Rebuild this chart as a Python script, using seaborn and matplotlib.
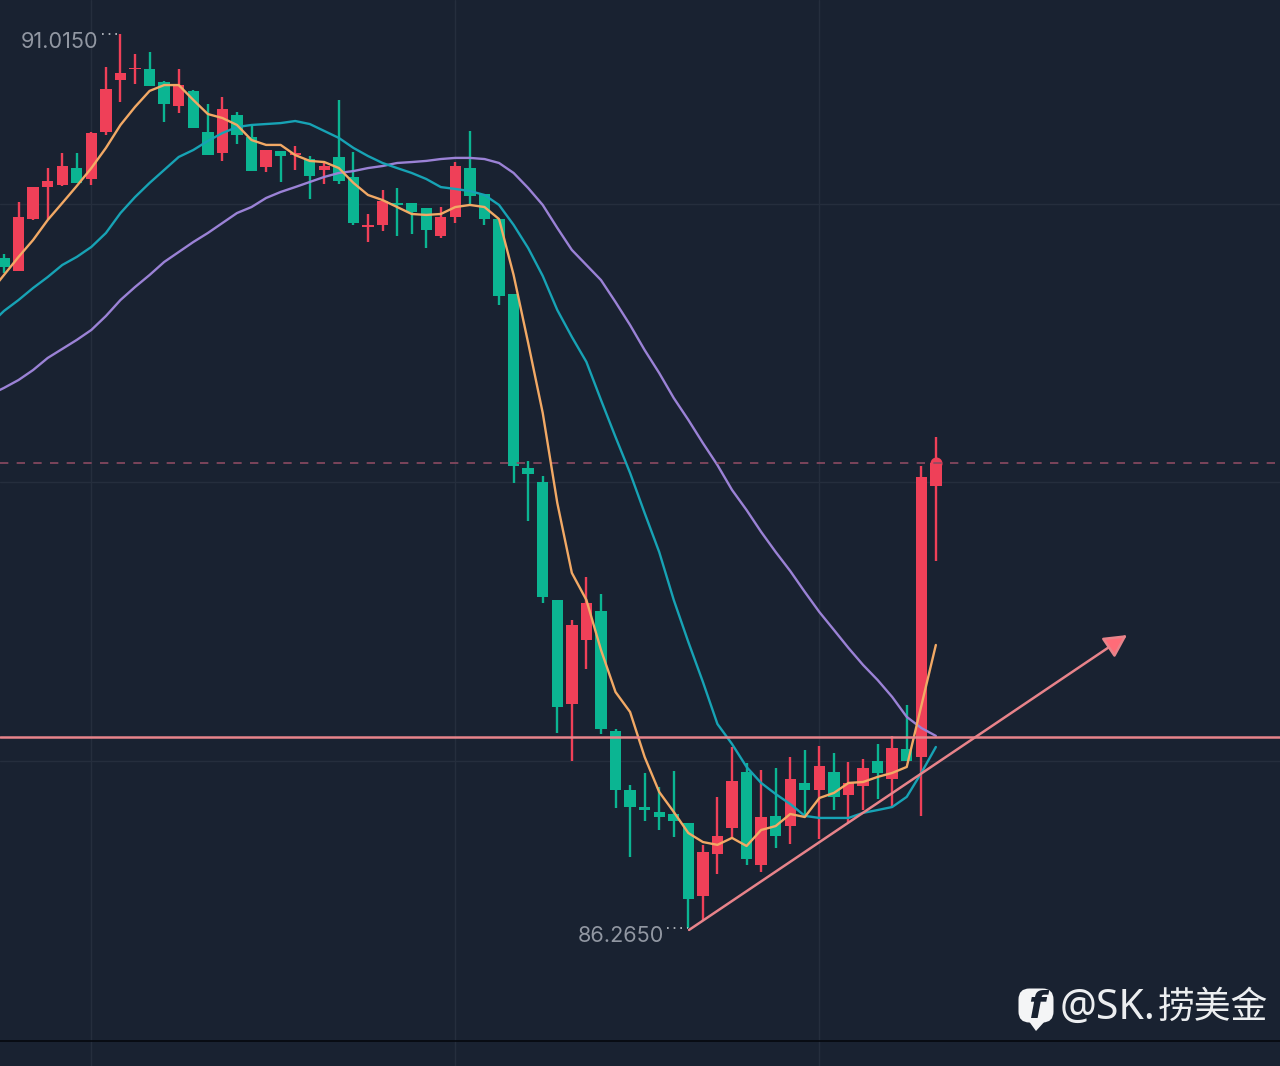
import numpy as np
import pandas as pd
import matplotlib.pyplot as plt
from matplotlib.patches import FancyBboxPatch, Polygon
import seaborn as sns

# values
opens = [89.825, 89.756, 90.032, 90.202, 90.213, 90.303, 90.245, 90.495, 90.771, 90.829,
         90.829, 90.760, 90.633, 90.713, 90.495, 90.383, 90.585, 90.468, 90.309, 90.394,
         90.372, 90.351, 90.293, 90.362, 90.256, 89.990, 90.001, 90.117, 90.117, 90.091,
         89.942, 90.043, 90.303, 90.165, 90.032, 89.634, 88.710, 88.635, 88.008, 87.456,
         87.796, 87.950, 87.312, 86.999, 86.908, 86.882, 86.871, 86.823, 86.436, 86.659,
         86.797, 87.094, 86.600, 86.861, 86.807, 87.036, 86.999, 87.094, 86.972, 87.020,
         87.153, 87.057, 87.217, 87.174, 88.614]
closes = [89.777, 90.043, 90.202, 90.234, 90.314, 90.224, 90.489, 90.723, 90.808, 90.835,
          90.739, 90.643, 90.744, 90.516, 90.372, 90.617, 90.479, 90.287, 90.399, 90.367,
          90.383, 90.261, 90.314, 90.234, 90.011, 90.001, 90.128, 90.107, 90.070, 89.974,
          90.043, 90.314, 90.155, 90.032, 89.623, 88.720, 88.678, 88.024, 87.440, 87.875,
          87.992, 87.323, 86.999, 86.908, 86.892, 86.855, 86.834, 86.420, 86.669, 86.754,
          87.047, 86.632, 86.855, 86.754, 87.057, 86.999, 87.126, 86.962, 87.036, 87.116,
          87.089, 87.222, 87.153, 88.662, 88.736]
highs = [89.846, 90.123, 90.202, 90.303, 90.383, 90.383, 90.495, 90.840, 91.015, 90.909,
         90.920, 90.766, 90.829, 90.718, 90.643, 90.681, 90.601, 90.527, 90.399, 90.394,
         90.420, 90.367, 90.335, 90.665, 90.388, 90.059, 90.187, 90.197, 90.117, 90.091,
         90.096, 90.335, 90.500, 90.165, 90.032, 89.634, 88.747, 88.667, 88.008, 87.902,
         88.130, 88.040, 87.323, 87.025, 87.089, 87.015, 87.100, 86.823, 86.707, 86.962,
         87.227, 87.142, 87.105, 87.116, 87.174, 87.211, 87.233, 87.195, 87.147, 87.163,
         87.243, 87.286, 87.450, 88.720, 88.874]
lows = [89.746, 89.756, 90.027, 90.032, 90.208, 90.224, 90.213, 90.479, 90.654, 90.750,
        90.739, 90.548, 90.596, 90.516, 90.372, 90.341, 90.431, 90.287, 90.282, 90.229,
        90.293, 90.139, 90.218, 90.218, 90.001, 89.910, 89.969, 89.942, 89.953, 89.878,
        89.931, 90.011, 90.107, 90.001, 89.576, 88.630, 88.428, 87.992, 87.302, 87.153,
        87.642, 87.296, 86.903, 86.643, 86.834, 86.786, 86.749, 86.265, 86.308, 86.552,
        86.744, 86.600, 86.563, 86.691, 86.712, 86.855, 86.738, 86.892, 86.829, 86.892,
        86.951, 86.908, 87.153, 86.861, 88.215]

# moving averages, the first value sits one bar left of the first candle
ma5 = [89.639, 89.735, 89.831, 89.921, 90.027, 90.117, 90.208, 90.303, 90.410, 90.532, 90.628,
       90.713, 90.744, 90.744, 90.665, 90.590, 90.569, 90.532, 90.452, 90.426, 90.426,
       90.372, 90.341, 90.335, 90.303, 90.224, 90.160, 90.133, 90.096, 90.059, 90.054,
       90.059, 90.096, 90.107, 90.096, 90.032, 89.735, 89.374, 89.002, 88.524, 88.152,
       88.008, 87.743, 87.519, 87.413, 87.174, 86.988, 86.882, 86.770, 86.722, 86.707,
       86.744, 86.701, 86.786, 86.807, 86.871, 86.855, 86.956, 86.983, 87.036, 87.041,
       87.068, 87.089, 87.121, 87.445, 87.769]
ma10 = [89.469, 89.544, 89.602, 89.666, 89.724, 89.788, 89.831, 89.884, 89.958, 90.064, 90.149,
        90.224, 90.293, 90.362, 90.399, 90.447, 90.489, 90.521, 90.532, 90.537, 90.542,
        90.553, 90.537, 90.500, 90.463, 90.410, 90.367, 90.330, 90.303, 90.277, 90.245,
        90.202, 90.192, 90.181, 90.160, 90.107, 90.001, 89.878, 89.730, 89.549, 89.406,
        89.273, 89.071, 88.874, 88.683, 88.470, 88.263, 88.008, 87.785, 87.573, 87.349,
        87.243, 87.121, 87.036, 86.977, 86.924, 86.861, 86.850, 86.850, 86.850, 86.877,
        86.892, 86.908, 86.962, 87.089, 87.227]
ma20 = [89.097, 89.135, 89.177, 89.230, 89.294, 89.342, 89.390, 89.443, 89.517, 89.602, 89.671,
        89.735, 89.804, 89.857, 89.910, 89.958, 90.011, 90.064, 90.096, 90.144, 90.176,
        90.202, 90.229, 90.256, 90.277, 90.287, 90.303, 90.314, 90.330, 90.335, 90.341,
        90.351, 90.357, 90.357, 90.351, 90.330, 90.277, 90.197, 90.107, 89.985, 89.868,
        89.788, 89.708, 89.591, 89.469, 89.336, 89.214, 89.081, 88.965, 88.842, 88.725,
        88.593, 88.486, 88.370, 88.263, 88.162, 88.051, 87.944, 87.849, 87.753, 87.663,
        87.583, 87.493, 87.387, 87.328, 87.286]

grid_prices = [90.112, 88.635, 87.153]
grid_bars = [6, 31, 56]
last_price = 88.736
support_price = 87.280
trend_x = [47.05, 77.13]
trend_y = [86.255, 87.822]
high_label = '91.0150'
low_label = '86.2650'
watermark_latin = '@SK.'
watermark_cjk = '捞美金'

BG = '#192231'
UP = '#ef4058'
DOWN = '#0bb592'

sns.set_theme(style='dark', rc={'axes.facecolor': BG, 'figure.facecolor': BG})
plt.rcParams['font.family'] = ['Noto Sans CJK SC', 'DejaVu Sans']

df = pd.DataFrame({'open': opens, 'close': closes, 'high': highs, 'low': lows})
df['bar'] = np.arange(len(df))
df['top'] = df[['open', 'close']].max(axis=1)
df['bottom'] = df[['open', 'close']].min(axis=1)
df['color'] = np.where(df['close'] >= df['open'], UP, DOWN)

ma_df = pd.DataFrame({'bar': np.arange(-1, len(df)), 'ma5': ma5, 'ma10': ma10, 'ma20': ma20})

fig = plt.figure(figsize=(12.8, 10.66), dpi=100)
ax = fig.add_axes([0, 0, 1, 1])
ax.set_xlim(-0.275, 87.637)
ax.set_ylim(85.532, 91.196)
ax.axis('off')

for p in grid_prices:
    ax.axhline(p, color='#252e3d', lw=1.0, zorder=1)
for b in grid_bars:
    ax.axvline(b, color='#252e3d', lw=1.0, zorder=1)
ax.axhline(85.665, color='#05080e', lw=1.2, zorder=1)

# candles
ax.vlines(df['bar'], df['low'], df['high'], colors=df['color'], lw=1.7, zorder=2)
ax.bar(df['bar'], df['top'] - df['bottom'], bottom=df['bottom'], width=0.78,
       color=df['color'], linewidth=0, zorder=3)
ax.scatter([df['bar'].iloc[-1]], [last_price], s=75, color=UP, linewidths=0, zorder=3)

sns.lineplot(data=ma_df, x='bar', y='ma20', color='#9b82d6', lw=1.7, ax=ax, zorder=4)
sns.lineplot(data=ma_df, x='bar', y='ma10', color='#17a3b5', lw=1.7, ax=ax, zorder=4)
sns.lineplot(data=ma_df, x='bar', y='ma5', color='#f2a965', lw=1.7, ax=ax, zorder=5)
ax.axis('off')

# levels and trend arrow
ax.axhline(last_price, color='#8c4a62', lw=1.2, ls=(0, (5, 5)), zorder=4)
ax.axhline(support_price, color='#e8848b', lw=1.8, zorder=6)
ax.annotate('', xy=(trend_x[1], trend_y[1]), xytext=(trend_x[0], trend_y[0]),
            arrowprops=dict(arrowstyle='-|>,head_length=1.15,head_width=0.6', lw=1.8,
                            edgecolor='#e8838a', facecolor='#ff6c78', shrinkA=0, shrinkB=0),
            zorder=6)

# high / low labels
ax.text(6.45, 90.975, high_label, ha='right', va='center', family='Inter',
        fontsize=15.6, color='#9197a2', zorder=7)
ax.plot([6.73, 7.98], [91.015, 91.015], color='#c4c8ce', lw=1.2, ls=(0, (1, 3)), zorder=7)
ax.text(45.33, 86.222, low_label, ha='right', va='center', family='Inter',
        fontsize=15.6, color='#9197a2', zorder=7)
ax.plot([45.55, 47.0], [86.265, 86.265], color='#c4c8ce', lw=1.2, ls=(0, (1, 3)), zorder=7)

# watermark, drawn in picture pixels
ov = fig.add_axes([0, 0, 1, 1])
ov.set_xlim(0, 1280)
ov.set_ylim(1066, 0)
ov.axis('off')
ov.patch.set_alpha(0)
ov.add_patch(FancyBboxPatch((1025, 995), 22, 21, boxstyle='round,pad=6.5,rounding_size=11',
                            fc='#f4f5f6', ec='none'))
ov.add_patch(Polygon([[1028, 1020], [1046, 1020], [1036, 1031]], closed=True, fc='#f4f5f6', ec='none'))
ov.text(1036, 1008, 'f', family='DejaVu Sans', style='italic', weight='bold', fontsize=27,
        color=BG, ha='center', va='center')
ov.text(1155, 1008, watermark_latin, ha='right', va='center', family='Noto Sans', fontsize=29.5, color='#eceef0')
ov.text(1268, 1007, watermark_cjk, ha='right', va='center', fontsize=26.5, color='#eceef0')

fig.savefig('out.png', dpi=100, facecolor=BG)
